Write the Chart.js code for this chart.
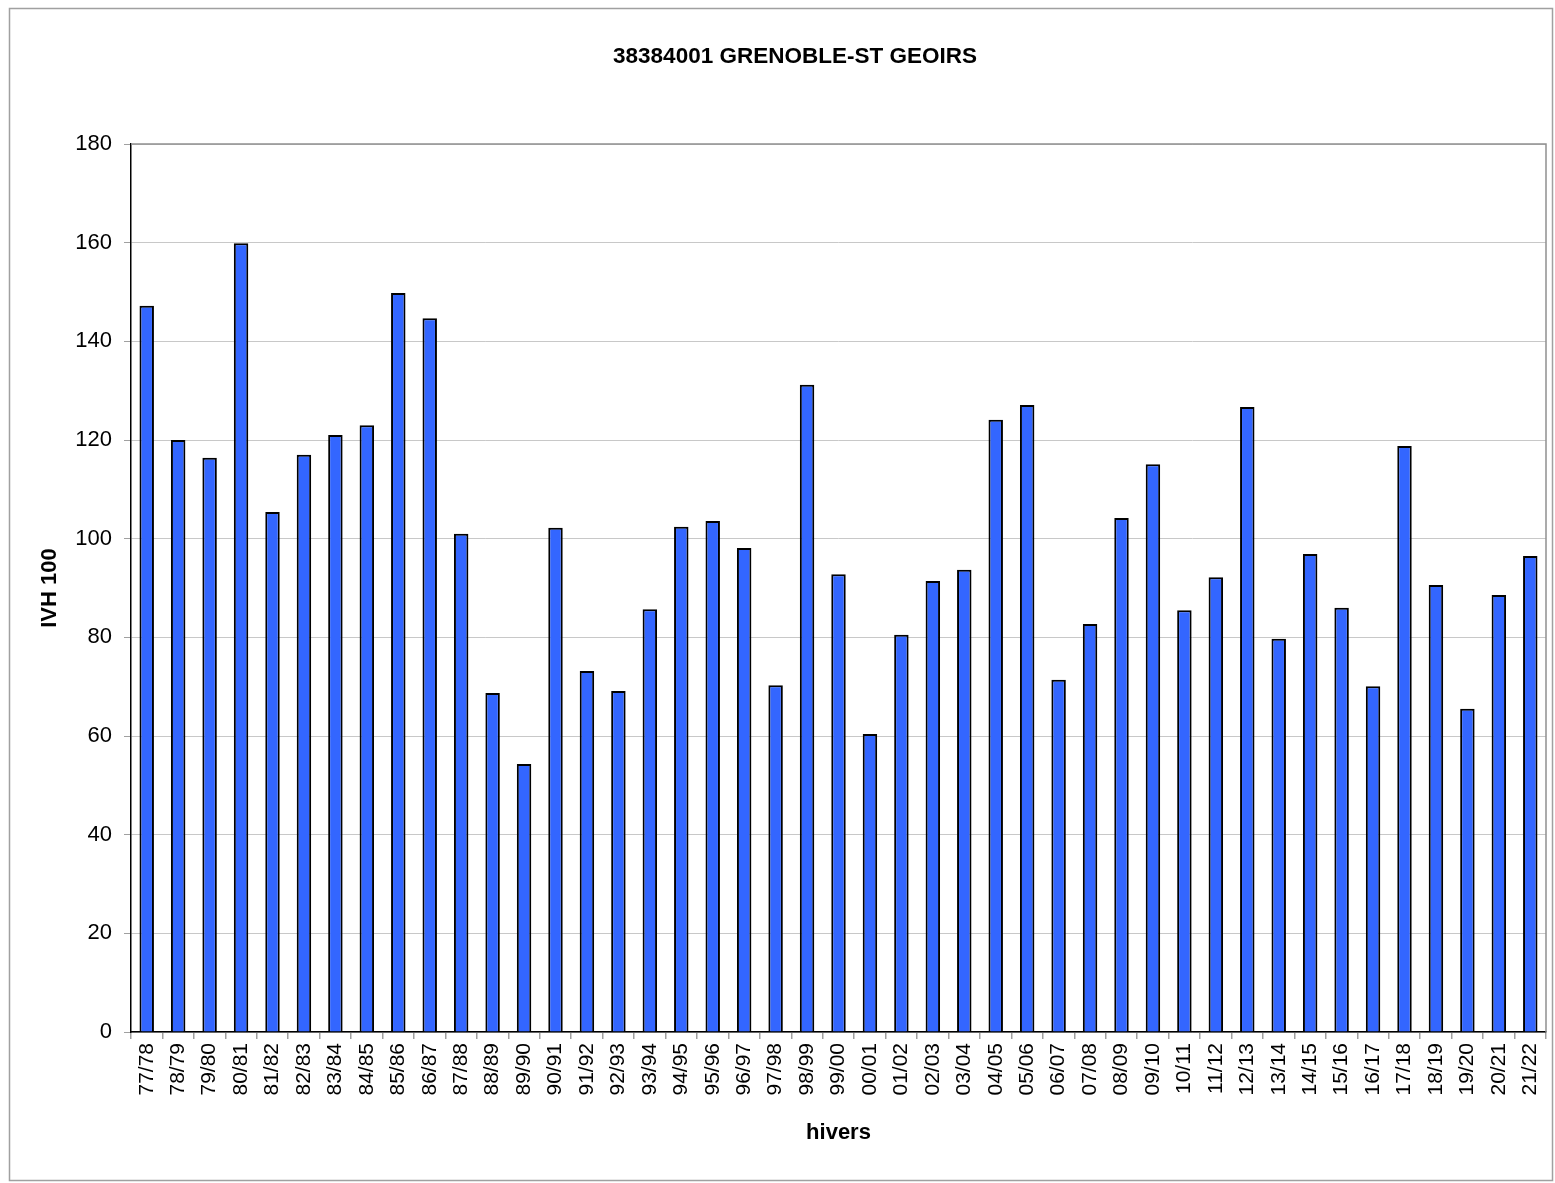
<!DOCTYPE html>
<html>
<head>
<meta charset="utf-8">
<script src="https://cdn.jsdelivr.net/npm/chart.js@4.4.1/dist/chart.umd.min.js"></script>
<style>
  html, body { margin: 0; padding: 0; background: #fff; }
  #wrap { width: 1555px; height: 1183px; }
</style>
</head>
<body>
<div id="wrap"><canvas id="chartIvh" width="1555" height="1183"></canvas></div>
<script>
// ── DONNÉES ─────────────────────────────────────────────────────
const hivers = ['77/78','78/79','79/80','80/81','81/82','82/83','83/84','84/85','85/86','86/87',
                '87/88','88/89','89/90','90/91','91/92','92/93','93/94','94/95','95/96','96/97',
                '97/98','98/99','99/00','00/01','01/02','02/03','03/04','04/05','05/06','06/07',
                '07/08','08/09','09/10','10/11','11/12','12/13','13/14','14/15','15/16','16/17',
                '17/18','18/19','19/20','20/21','21/22']
const ivh100 = [147.2, 120.0, 116.4, 159.9, 105.4, 117.0, 121.0, 123.0, 149.8, 144.7,
                101.0, 68.7, 54.3, 102.2, 73.2, 69.1, 85.7, 102.4, 103.6, 98.1,
                70.3, 131.2, 92.8, 60.4, 80.5, 91.4, 93.7, 124.1, 127.1, 71.4,
                82.7, 104.2, 115.1, 85.5, 92.2, 126.7, 79.7, 96.9, 86.0, 70.1,
                118.8, 90.6, 65.5, 88.6, 96.5]
const yTicks = [0, 20, 40, 60, 80, 100, 120, 140, 160, 180]

const titre = '38384001 GRENOBLE-ST GEOIRS'
const police = 'Liberation Sans, Arial, Helvetica, sans-serif'

// Cadre extérieur, bord du graphique et titre
const cadrePlugin = {
    id: 'cadre',
    beforeDraw(chart) {
        const ctx = chart.ctx
        ctx.save()
        ctx.fillStyle = '#fff'
        ctx.fillRect(0, 0, chart.width, chart.height)
        ctx.strokeStyle = '#a0a0a0'
        ctx.lineWidth = 1.5
        ctx.strokeRect(9.5, 8.5, chart.width - 12, chart.height - 11)
        ctx.restore()
    },
    afterDatasetsDraw(chart) {
        const { ctx, chartArea: a } = chart
        ctx.save()
        ctx.strokeStyle = '#909090'
        ctx.lineWidth = 1.5
        ctx.beginPath()
        ctx.moveTo(a.left, a.top)
        ctx.lineTo(a.right, a.top)
        ctx.lineTo(a.right, a.bottom)
        ctx.stroke()
        ctx.fillStyle = '#000'
        ctx.font = 'bold 22.5px ' + police
        ctx.textAlign = 'center'
        ctx.textBaseline = 'middle'
        ctx.fillText(titre, 795, 57)
        ctx.restore()
    }
}

new Chart(document.getElementById('chartIvh').getContext('2d'), {
    type: 'bar',
    data: {
        labels: hivers,
        datasets: [{
            label: 'IVH 100',
            data: ivh100,
            backgroundColor: '#3366ff',
            borderColor: '#000',
            borderWidth: 2,
            barPercentage: 0.46,
            categoryPercentage: 1.0
        }]
    },
    options: {
        responsive: false,
        animation: false,
        layout: { padding: { top: 144, left: 10, right: 9, bottom: 3 } },
        plugins: { legend: { display: false }, tooltip: { enabled: false } },
        scales: {
            x: {
                offset: true,
                grid: { display: true, offset: true, drawOnChartArea: false, color: '#a0a0a0', tickLength: 7, lineWidth: 1.5 },
                border: { color: '#000', width: 1.5 },
                ticks: { color: '#000', font: { size: 21, family: police }, minRotation: 90, maxRotation: 90, autoSkip: false, padding: 4 },
                title: { display: true, text: 'hivers', color: '#000', font: { size: 22, weight: 'bold', family: police }, padding: { top: 0, bottom: 34 } },
                afterFit(scale) {
                    scale.height = 148
                    scale.paddingLeft = 0
                    scale.paddingRight = 0
                }
            },
            y: {
                min: 0,
                max: 180,
                afterBuildTicks(scale) { scale.ticks = yTicks.map(v => ({ value: v })) },
                grid: { color: '#c8c8c8', lineWidth: 1, tickLength: 7, tickColor: '#a0a0a0' },
                border: { color: '#000', width: 1.5 },
                ticks: { color: '#000', font: { size: 22, family: police }, padding: 12 },
                title: { display: true, text: 'IVH 100', color: '#000', font: { size: 22, weight: 'bold', family: police }, padding: { top: 27, bottom: 0 } },
                afterFit(scale) { scale.width = 121 }
            }
        }
    },
    plugins: [cadrePlugin]
})
</script>
</body>
</html>
